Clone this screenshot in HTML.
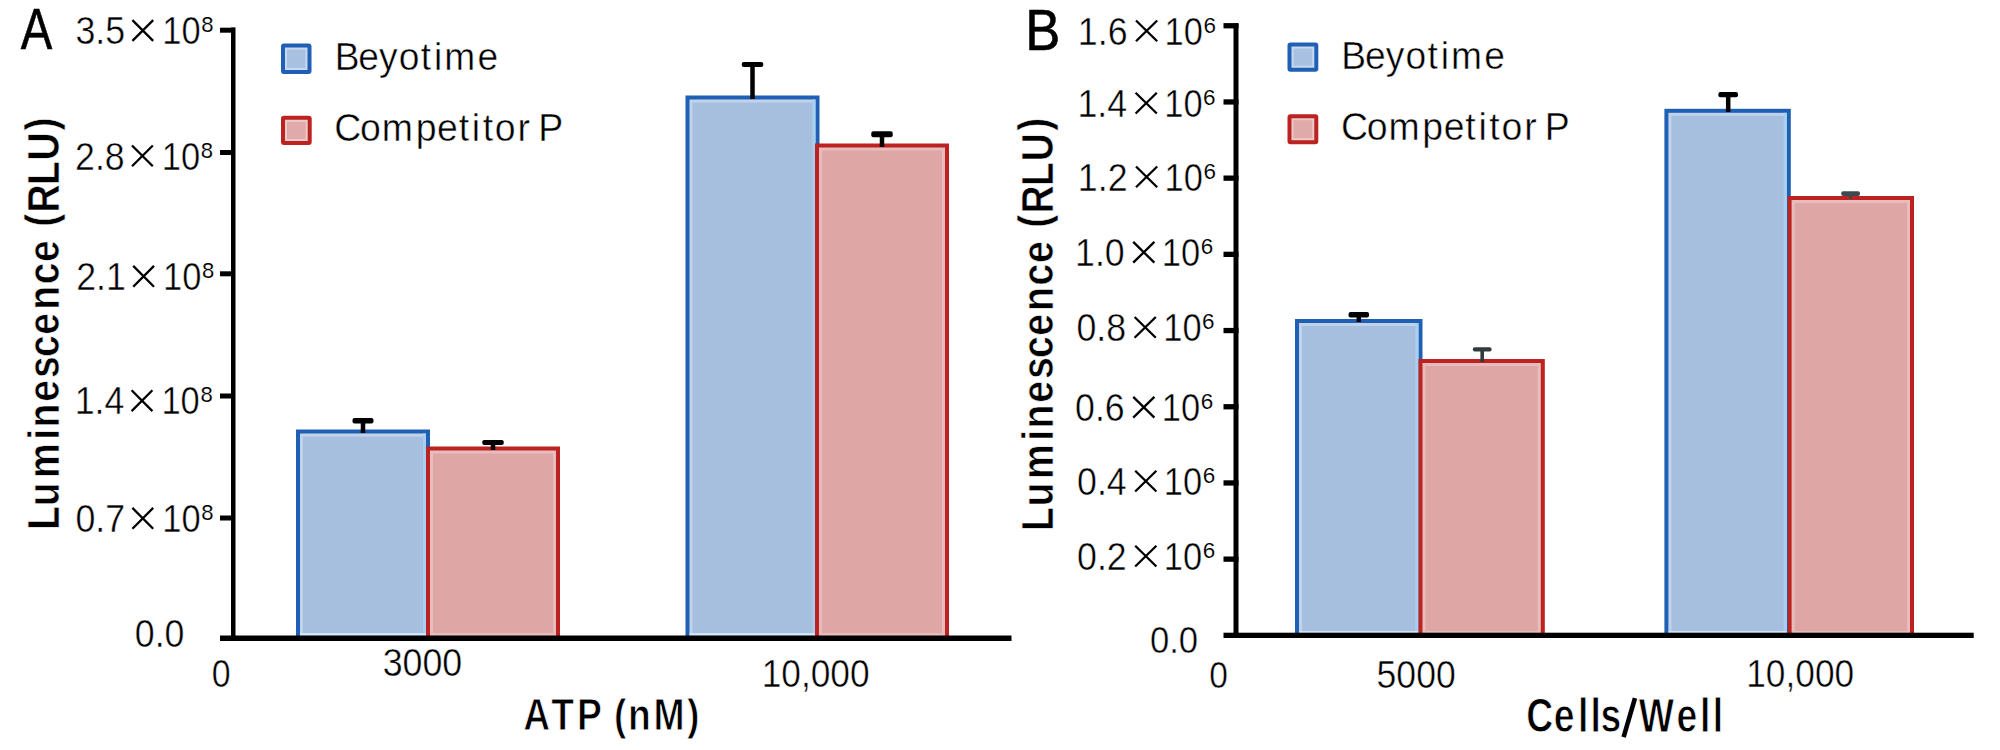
<!DOCTYPE html>
<html><head><meta charset="utf-8"><title>Luminescence comparison</title>
<style>
html,body{margin:0;padding:0;background:#fff;}
body{width:2000px;height:750px;overflow:hidden;position:relative;}
svg{position:absolute;left:0;top:0;display:block;}
text{font-family:"Liberation Sans", sans-serif;}
</style></head><body>
<svg width="2000" height="750" viewBox="0 0 2000 750">
<rect x="0" y="0" width="2000" height="750" fill="#fff"/>
<rect x="296.00" y="429.50" width="134.00" height="206.50" fill="#1f5fb4"/>
<rect x="300.00" y="433.50" width="126.00" height="202.50" fill="#c0d3ea"/>
<rect x="423.00" y="433.50" width="3.00" height="202.50" fill="#a6d0f2"/>
<rect x="300.00" y="633.00" width="126.00" height="3.00" fill="#cfe6f8"/>
<rect x="303.00" y="436.50" width="120.00" height="196.50" fill="#a7bfdf"/>
<rect x="426.00" y="446.50" width="134.00" height="189.50" fill="#bb2220"/>
<rect x="430.00" y="450.50" width="126.00" height="185.50" fill="#e8bcbc"/>
<rect x="433.00" y="453.50" width="120.00" height="179.50" fill="#dfa6a6"/>
<rect x="685.50" y="95.50" width="134.00" height="540.50" fill="#1f5fb4"/>
<rect x="689.50" y="99.50" width="126.00" height="536.50" fill="#c0d3ea"/>
<rect x="812.50" y="99.50" width="3.00" height="536.50" fill="#a6d0f2"/>
<rect x="689.50" y="633.00" width="126.00" height="3.00" fill="#cfe6f8"/>
<rect x="692.50" y="102.50" width="120.00" height="530.50" fill="#a7bfdf"/>
<rect x="815.00" y="143.50" width="134.00" height="492.50" fill="#bb2220"/>
<rect x="819.00" y="147.50" width="126.00" height="488.50" fill="#e8bcbc"/>
<rect x="822.00" y="150.50" width="120.00" height="482.50" fill="#dfa6a6"/>
<rect x="360.75" y="419.00" width="4.50" height="14.00" fill="#000"/>
<rect x="352.50" y="418.00" width="21.00" height="5.50" rx="2" fill="#000"/>
<rect x="490.75" y="441.00" width="4.50" height="9.00" fill="#000"/>
<rect x="482.25" y="440.00" width="21.50" height="5.00" rx="2" fill="#000"/>
<rect x="750.25" y="63.00" width="4.50" height="36.00" fill="#000"/>
<rect x="741.75" y="62.00" width="21.50" height="5.00" rx="2" fill="#000"/>
<rect x="879.75" y="132.30" width="4.50" height="14.70" fill="#000"/>
<rect x="871.30" y="131.30" width="21.40" height="6.00" rx="2" fill="#000"/>
<rect x="231.00" y="27.50" width="4.50" height="613.50" fill="#000"/>
<rect x="220.00" y="635.50" width="791.50" height="5.50" fill="#000"/>
<rect x="220.00" y="27.70" width="15.00" height="5.00" fill="#000"/>
<rect x="220.00" y="150.00" width="15.00" height="5.00" fill="#000"/>
<rect x="220.00" y="271.30" width="15.00" height="5.00" fill="#000"/>
<rect x="220.00" y="393.50" width="15.00" height="5.00" fill="#000"/>
<rect x="220.00" y="515.50" width="15.00" height="5.00" fill="#000"/>
<rect x="283.00" y="45.50" width="26.50" height="26.50" fill="#c8d8ee" stroke="#1f5fb4" stroke-width="4" rx="1"/>
<rect x="287.00" y="49.50" width="18.50" height="18.50" fill="#a9c1e0"/>
<rect x="283.00" y="117.80" width="26.70" height="25.20" fill="#eccaca" stroke="#bb2220" stroke-width="4" rx="1"/>
<rect x="287.00" y="121.80" width="18.70" height="17.20" fill="#e0aaaa"/>
<rect x="1295.00" y="319.00" width="127.50" height="315.00" fill="#1f5fb4"/>
<rect x="1299.00" y="323.00" width="119.50" height="311.00" fill="#c0d3ea"/>
<rect x="1415.50" y="323.00" width="3.00" height="311.00" fill="#a6d0f2"/>
<rect x="1299.00" y="631.00" width="119.50" height="3.00" fill="#cfe6f8"/>
<rect x="1302.00" y="326.00" width="113.50" height="305.00" fill="#a7bfdf"/>
<rect x="1418.50" y="359.00" width="126.30" height="275.00" fill="#bb2220"/>
<rect x="1422.50" y="363.00" width="118.30" height="271.00" fill="#e8bcbc"/>
<rect x="1425.50" y="366.00" width="112.30" height="265.00" fill="#dfa6a6"/>
<rect x="1664.40" y="108.80" width="126.40" height="525.20" fill="#1f5fb4"/>
<rect x="1668.40" y="112.80" width="118.40" height="521.20" fill="#c0d3ea"/>
<rect x="1783.80" y="112.80" width="3.00" height="521.20" fill="#a6d0f2"/>
<rect x="1668.40" y="631.00" width="118.40" height="3.00" fill="#cfe6f8"/>
<rect x="1671.40" y="115.80" width="112.40" height="515.20" fill="#a7bfdf"/>
<rect x="1787.60" y="196.00" width="126.40" height="438.00" fill="#bb2220"/>
<rect x="1791.60" y="200.00" width="118.40" height="434.00" fill="#e8bcbc"/>
<rect x="1794.60" y="203.00" width="112.40" height="428.00" fill="#dfa6a6"/>
<rect x="1356.55" y="313.00" width="4.50" height="9.00" fill="#000"/>
<rect x="1348.55" y="312.00" width="20.50" height="5.40" rx="2" fill="#000"/>
<rect x="1480.40" y="348.20" width="3.60" height="13.80" fill="#333a3c"/>
<rect x="1472.80" y="347.20" width="18.80" height="4.40" rx="2" fill="#333a3c"/>
<rect x="1725.95" y="93.00" width="4.50" height="19.00" fill="#000"/>
<rect x="1718.40" y="92.00" width="19.60" height="5.20" rx="2" fill="#000"/>
<rect x="1849.10" y="192.20" width="3.00" height="6.80" fill="#3c4a50"/>
<rect x="1841.20" y="191.20" width="18.80" height="4.80" rx="2" fill="#3c4a50"/>
<rect x="1233.50" y="23.50" width="5.00" height="614.50" fill="#000"/>
<rect x="1223.50" y="632.70" width="750.20" height="5.30" fill="#000"/>
<rect x="1223.50" y="23.10" width="15.00" height="5.30" fill="#000"/>
<rect x="1223.50" y="99.30" width="15.00" height="5.30" fill="#000"/>
<rect x="1223.50" y="175.50" width="15.00" height="5.30" fill="#000"/>
<rect x="1223.50" y="251.70" width="15.00" height="5.30" fill="#000"/>
<rect x="1223.50" y="327.90" width="15.00" height="5.30" fill="#000"/>
<rect x="1223.50" y="404.10" width="15.00" height="5.30" fill="#000"/>
<rect x="1223.50" y="480.30" width="15.00" height="5.30" fill="#000"/>
<rect x="1223.50" y="556.50" width="15.00" height="5.30" fill="#000"/>
<rect x="1289.50" y="44.50" width="26.80" height="25.20" fill="#c8d8ee" stroke="#1f5fb4" stroke-width="4" rx="1"/>
<rect x="1293.50" y="48.50" width="18.80" height="17.20" fill="#a9c1e0"/>
<rect x="1289.50" y="116.20" width="26.80" height="26.00" fill="#eccaca" stroke="#bb2220" stroke-width="4" rx="1"/>
<rect x="1293.50" y="120.20" width="18.80" height="18.00" fill="#e0aaaa"/>
<text transform="translate(20.63,48.70) scale(0.8231,1)" font-size="57.40" font-weight="normal" fill="#000" stroke="#000" stroke-width="0.6">A</text>
<text transform="translate(1025.21,49.70) scale(0.9046,1)" font-size="58.13" font-weight="normal" fill="#000" stroke="#000" stroke-width="0.6">B</text>
<text transform="translate(75.46,44.22) scale(0.9292,1)" font-size="38.45" stroke="#fff" stroke-width="0.45">3.5</text>
<path d="M132.41,20.10L153.19,40.90M153.19,20.10L132.41,40.90" stroke="#000" stroke-width="2.3" fill="none"/>
<text transform="translate(162.21,44.22) scale(0.8970,1)" font-size="38.45" stroke="#fff" stroke-width="0.45">10</text>
<text transform="translate(201.26,32.17) scale(0.9785,1)" font-size="22.61" font-weight="normal" fill="#000" stroke="#fff" stroke-width="0.12">8</text>
<text transform="translate(75.06,169.62) scale(0.9292,1)" font-size="38.45" stroke="#fff" stroke-width="0.45">2.8</text>
<path d="M132.01,145.51L152.80,166.30M152.80,145.51L132.01,166.30" stroke="#000" stroke-width="2.3" fill="none"/>
<text transform="translate(161.81,169.62) scale(0.8970,1)" font-size="38.45" stroke="#fff" stroke-width="0.45">10</text>
<text transform="translate(200.86,157.57) scale(0.9785,1)" font-size="22.61" font-weight="normal" fill="#000" stroke="#fff" stroke-width="0.12">8</text>
<text transform="translate(76.26,289.62) scale(0.9431,1)" font-size="37.88" stroke="#fff" stroke-width="0.45">2.1</text>
<path d="M133.21,265.90L154.00,286.69M154.00,265.90L133.21,286.69" stroke="#000" stroke-width="2.3" fill="none"/>
<text transform="translate(163.01,289.62) scale(0.9104,1)" font-size="37.88" stroke="#fff" stroke-width="0.45">10</text>
<text transform="translate(202.06,277.97) scale(0.9785,1)" font-size="22.61" font-weight="normal" fill="#000" stroke="#fff" stroke-width="0.12">8</text>
<text transform="translate(74.66,414.02) scale(0.9431,1)" font-size="37.88" stroke="#fff" stroke-width="0.45">1.4</text>
<path d="M131.61,390.31L152.39,411.10M152.39,390.31L131.61,411.10" stroke="#000" stroke-width="2.3" fill="none"/>
<text transform="translate(161.41,414.02) scale(0.9104,1)" font-size="37.88" stroke="#fff" stroke-width="0.45">10</text>
<text transform="translate(200.46,402.37) scale(0.9785,1)" font-size="22.61" font-weight="normal" fill="#000" stroke="#fff" stroke-width="0.12">8</text>
<text transform="translate(75.46,532.02) scale(0.9292,1)" font-size="38.45" stroke="#fff" stroke-width="0.45">0.7</text>
<path d="M132.41,507.90L153.19,528.70M153.19,507.90L132.41,528.70" stroke="#000" stroke-width="2.3" fill="none"/>
<text transform="translate(162.21,532.02) scale(0.8970,1)" font-size="38.45" stroke="#fff" stroke-width="0.45">10</text>
<text transform="translate(201.26,519.97) scale(0.9785,1)" font-size="22.61" font-weight="normal" fill="#000" stroke="#fff" stroke-width="0.12">8</text>
<text transform="translate(134.77,647.41) scale(0.9158,1)" font-size="39.01" font-weight="normal" fill="#000" stroke="#fff" stroke-width="0.45">0.0</text>
<text transform="translate(211.64,687.02) scale(0.8890,1)" font-size="38.16" font-weight="normal" fill="#000" stroke="#fff" stroke-width="0.45">0</text>
<text transform="translate(382.66,676.41) scale(0.9167,1)" font-size="39.01" font-weight="normal" fill="#000" stroke="#fff" stroke-width="0.45">3000</text>
<text transform="translate(761.65,686.52) scale(0.9323,1)" font-size="37.88" font-weight="normal" fill="#000" stroke="#fff" stroke-width="0.45">10,000</text>
<text transform="translate(334.63,69.70) scale(0.9721,1)" font-size="38.25" font-weight="normal" stroke="#fff" stroke-width="0.45">B</text>
<text transform="translate(358.33,69.70) scale(0.9721,1)" font-size="38.25" font-weight="normal" stroke="#fff" stroke-width="0.45">e</text>
<text transform="translate(378.95,69.70) scale(0.9721,1)" font-size="38.25" font-weight="normal" stroke="#fff" stroke-width="0.45">y</text>
<text transform="translate(398.68,69.70) scale(0.9721,1)" font-size="38.25" font-weight="normal" stroke="#fff" stroke-width="0.45">o</text>
<text transform="translate(420.70,69.70) scale(0.9721,1)" font-size="38.25" font-weight="normal" stroke="#fff" stroke-width="0.45">t</text>
<text transform="translate(434.01,69.70) scale(0.9721,1)" font-size="38.25" font-weight="normal" stroke="#fff" stroke-width="0.45">i</text>
<text transform="translate(444.27,69.70) scale(0.9721,1)" font-size="38.25" font-weight="normal" stroke="#fff" stroke-width="0.45">m</text>
<text transform="translate(477.53,69.70) scale(0.9721,1)" font-size="38.25" font-weight="normal" stroke="#fff" stroke-width="0.45">e</text>
<text transform="translate(334.29,141.00) scale(0.9751,1)" font-size="38.40" font-weight="normal" stroke="#fff" stroke-width="0.45">C</text>
<text transform="translate(360.06,141.00) scale(0.9751,1)" font-size="38.40" font-weight="normal" stroke="#fff" stroke-width="0.45">o</text>
<text transform="translate(381.87,141.00) scale(0.9751,1)" font-size="38.40" font-weight="normal" stroke="#fff" stroke-width="0.45">m</text>
<text transform="translate(415.64,141.00) scale(0.9751,1)" font-size="38.40" font-weight="normal" stroke="#fff" stroke-width="0.45">p</text>
<text transform="translate(437.11,141.00) scale(0.9751,1)" font-size="38.40" font-weight="normal" stroke="#fff" stroke-width="0.45">e</text>
<text transform="translate(458.66,141.00) scale(0.9751,1)" font-size="38.40" font-weight="normal" stroke="#fff" stroke-width="0.45">t</text>
<text transform="translate(471.68,141.00) scale(0.9751,1)" font-size="38.40" font-weight="normal" stroke="#fff" stroke-width="0.45">i</text>
<text transform="translate(482.66,141.00) scale(0.9751,1)" font-size="38.40" font-weight="normal" stroke="#fff" stroke-width="0.45">t</text>
<text transform="translate(494.86,141.00) scale(0.9751,1)" font-size="38.40" font-weight="normal" stroke="#fff" stroke-width="0.45">o</text>
<text transform="translate(517.44,141.00) scale(0.9751,1)" font-size="38.40" font-weight="normal" stroke="#fff" stroke-width="0.45">r</text>
<text transform="translate(538.14,141.00) scale(0.9751,1)" font-size="38.40" font-weight="normal" stroke="#fff" stroke-width="0.45">P</text>
<text transform="translate(523.33,730.00) scale(0.8404,1)" font-size="44.36" font-weight="bold" stroke="#fff" stroke-width="0.9">A</text>
<text transform="translate(551.13,730.00) scale(0.8404,1)" font-size="44.36" font-weight="bold" stroke="#fff" stroke-width="0.9">T</text>
<text transform="translate(576.95,730.00) scale(0.8404,1)" font-size="44.36" font-weight="bold" stroke="#fff" stroke-width="0.9">P</text>
<text transform="translate(613.92,730.00) scale(0.8404,1)" font-size="44.36" font-weight="bold" stroke="#fff" stroke-width="0.9">(</text>
<text transform="translate(628.04,730.00) scale(0.8404,1)" font-size="44.36" font-weight="bold" stroke="#fff" stroke-width="0.9">n</text>
<text transform="translate(653.48,730.00) scale(0.8404,1)" font-size="44.36" font-weight="bold" stroke="#fff" stroke-width="0.9">M</text>
<text transform="translate(686.94,730.00) scale(0.8404,1)" font-size="44.36" font-weight="bold" stroke="#fff" stroke-width="0.9">)</text>
<text transform="translate(59.00,529.73) rotate(-90) scale(0.8651,1)" font-size="45.09" font-weight="bold" stroke="#fff" stroke-width="0.6">L</text>
<text transform="translate(59.00,506.25) rotate(-90) scale(0.8651,1)" font-size="45.09" font-weight="bold" stroke="#fff" stroke-width="0.6">u</text>
<text transform="translate(59.00,477.96) rotate(-90) scale(0.8651,1)" font-size="45.09" font-weight="bold" stroke="#fff" stroke-width="0.6">m</text>
<text transform="translate(59.00,439.81) rotate(-90) scale(0.8651,1)" font-size="45.09" font-weight="bold" stroke="#fff" stroke-width="0.6">i</text>
<text transform="translate(59.00,427.50) rotate(-90) scale(0.8651,1)" font-size="45.09" font-weight="bold" stroke="#fff" stroke-width="0.6">n</text>
<text transform="translate(59.00,401.77) rotate(-90) scale(0.8651,1)" font-size="45.09" font-weight="bold" stroke="#fff" stroke-width="0.6">e</text>
<text transform="translate(59.00,378.08) rotate(-90) scale(0.8651,1)" font-size="45.09" font-weight="bold" stroke="#fff" stroke-width="0.6">s</text>
<text transform="translate(59.00,357.07) rotate(-90) scale(0.8651,1)" font-size="45.09" font-weight="bold" stroke="#fff" stroke-width="0.6">c</text>
<text transform="translate(59.00,334.67) rotate(-90) scale(0.8651,1)" font-size="45.09" font-weight="bold" stroke="#fff" stroke-width="0.6">e</text>
<text transform="translate(59.00,309.85) rotate(-90) scale(0.8651,1)" font-size="45.09" font-weight="bold" stroke="#fff" stroke-width="0.6">n</text>
<text transform="translate(59.00,284.37) rotate(-90) scale(0.8651,1)" font-size="45.09" font-weight="bold" stroke="#fff" stroke-width="0.6">c</text>
<text transform="translate(59.00,261.92) rotate(-90) scale(0.8651,1)" font-size="45.09" font-weight="bold" stroke="#fff" stroke-width="0.6">e</text>
<text transform="translate(55.50,226.76) rotate(-90) scale(0.8651,1)" font-size="45.09" font-weight="bold" stroke="#fff" stroke-width="0.6">(</text>
<text transform="translate(59.00,212.42) rotate(-90) scale(0.8651,1)" font-size="45.09" font-weight="bold" stroke="#fff" stroke-width="0.6">R</text>
<text transform="translate(59.00,185.03) rotate(-90) scale(0.8651,1)" font-size="45.09" font-weight="bold" stroke="#fff" stroke-width="0.6">L</text>
<text transform="translate(59.00,160.59) rotate(-90) scale(0.8651,1)" font-size="45.09" font-weight="bold" stroke="#fff" stroke-width="0.6">U</text>
<text transform="translate(55.50,130.46) rotate(-90) scale(0.8651,1)" font-size="45.09" font-weight="bold" stroke="#fff" stroke-width="0.6">)</text>
<text transform="translate(1077.86,45.01) scale(0.9158,1)" font-size="39.01" stroke="#fff" stroke-width="0.45">1.6</text>
<path d="M1136.00,20.50L1157.19,41.30M1157.19,20.50L1136.00,41.30" stroke="#000" stroke-width="2.3" fill="none"/>
<text transform="translate(1164.61,45.01) scale(0.8840,1)" font-size="39.01" stroke="#fff" stroke-width="0.45">10</text>
<text transform="translate(1203.48,32.57) scale(0.9943,1)" font-size="22.61" font-weight="normal" fill="#000" stroke="#fff" stroke-width="0.12">6</text>
<text transform="translate(1077.46,116.82) scale(0.9292,1)" font-size="38.45" stroke="#fff" stroke-width="0.45">1.4</text>
<path d="M1135.61,92.71L1156.80,113.49M1156.80,92.71L1135.61,113.49" stroke="#000" stroke-width="2.3" fill="none"/>
<text transform="translate(1164.21,116.82) scale(0.8970,1)" font-size="38.45" stroke="#fff" stroke-width="0.45">10</text>
<text transform="translate(1203.08,104.77) scale(0.9943,1)" font-size="22.61" font-weight="normal" fill="#000" stroke="#fff" stroke-width="0.12">6</text>
<text transform="translate(1077.86,191.01) scale(0.9158,1)" font-size="39.01" stroke="#fff" stroke-width="0.45">1.2</text>
<path d="M1136.00,166.51L1157.19,187.30M1157.19,166.51L1136.00,187.30" stroke="#000" stroke-width="2.3" fill="none"/>
<text transform="translate(1164.61,191.01) scale(0.8840,1)" font-size="39.01" stroke="#fff" stroke-width="0.45">10</text>
<text transform="translate(1203.48,178.57) scale(0.9943,1)" font-size="22.61" font-weight="normal" fill="#000" stroke="#fff" stroke-width="0.12">6</text>
<text transform="translate(1075.06,266.41) scale(0.9158,1)" font-size="39.01" stroke="#fff" stroke-width="0.45">1.0</text>
<path d="M1133.20,241.91L1154.39,262.69M1154.39,241.91L1133.20,262.69" stroke="#000" stroke-width="2.3" fill="none"/>
<text transform="translate(1161.81,266.41) scale(0.8840,1)" font-size="39.01" stroke="#fff" stroke-width="0.45">10</text>
<text transform="translate(1200.68,253.97) scale(0.9943,1)" font-size="22.61" font-weight="normal" fill="#000" stroke="#fff" stroke-width="0.12">6</text>
<text transform="translate(1076.46,341.41) scale(0.9191,1)" font-size="38.87" stroke="#fff" stroke-width="0.45">0.8</text>
<path d="M1134.61,317.00L1155.80,337.80M1155.80,317.00L1134.61,337.80" stroke="#000" stroke-width="2.3" fill="none"/>
<text transform="translate(1163.21,341.41) scale(0.8872,1)" font-size="38.87" stroke="#fff" stroke-width="0.45">10</text>
<text transform="translate(1202.08,329.07) scale(0.9943,1)" font-size="22.61" font-weight="normal" fill="#000" stroke="#fff" stroke-width="0.12">6</text>
<text transform="translate(1075.06,421.41) scale(0.9158,1)" font-size="39.01" stroke="#fff" stroke-width="0.45">0.6</text>
<path d="M1133.20,396.90L1154.39,417.69M1154.39,396.90L1133.20,417.69" stroke="#000" stroke-width="2.3" fill="none"/>
<text transform="translate(1161.81,421.41) scale(0.8840,1)" font-size="39.01" stroke="#fff" stroke-width="0.45">10</text>
<text transform="translate(1200.68,408.97) scale(0.9943,1)" font-size="22.61" font-weight="normal" fill="#000" stroke="#fff" stroke-width="0.12">6</text>
<text transform="translate(1077.06,495.21) scale(0.9158,1)" font-size="39.01" stroke="#fff" stroke-width="0.45">0.4</text>
<path d="M1135.20,470.70L1156.39,491.50M1156.39,470.70L1135.20,491.50" stroke="#000" stroke-width="2.3" fill="none"/>
<text transform="translate(1163.81,495.21) scale(0.8840,1)" font-size="39.01" stroke="#fff" stroke-width="0.45">10</text>
<text transform="translate(1202.68,482.77) scale(0.9943,1)" font-size="22.61" font-weight="normal" fill="#000" stroke="#fff" stroke-width="0.12">6</text>
<text transform="translate(1077.06,570.21) scale(0.9158,1)" font-size="39.01" stroke="#fff" stroke-width="0.45">0.2</text>
<path d="M1135.20,545.70L1156.39,566.50M1156.39,545.70L1135.20,566.50" stroke="#000" stroke-width="2.3" fill="none"/>
<text transform="translate(1163.81,570.21) scale(0.8840,1)" font-size="39.01" stroke="#fff" stroke-width="0.45">10</text>
<text transform="translate(1202.68,557.77) scale(0.9943,1)" font-size="22.61" font-weight="normal" fill="#000" stroke="#fff" stroke-width="0.12">6</text>
<text transform="translate(1149.91,652.92) scale(0.9218,1)" font-size="37.60" font-weight="normal" fill="#000" stroke="#fff" stroke-width="0.45">0.0</text>
<text transform="translate(1209.36,687.62) scale(0.8879,1)" font-size="37.74" font-weight="normal" fill="#000" stroke="#fff" stroke-width="0.45">0</text>
<text transform="translate(1376.58,688.31) scale(0.9085,1)" font-size="39.15" font-weight="normal" fill="#000" stroke="#fff" stroke-width="0.45">5000</text>
<text transform="translate(1746.25,686.92) scale(0.9314,1)" font-size="37.88" font-weight="normal" fill="#000" stroke="#fff" stroke-width="0.45">10,000</text>
<text transform="translate(1341.33,68.90) scale(0.9721,1)" font-size="38.25" font-weight="normal" stroke="#fff" stroke-width="0.45">B</text>
<text transform="translate(1365.03,68.90) scale(0.9721,1)" font-size="38.25" font-weight="normal" stroke="#fff" stroke-width="0.45">e</text>
<text transform="translate(1385.65,68.90) scale(0.9721,1)" font-size="38.25" font-weight="normal" stroke="#fff" stroke-width="0.45">y</text>
<text transform="translate(1405.38,68.90) scale(0.9721,1)" font-size="38.25" font-weight="normal" stroke="#fff" stroke-width="0.45">o</text>
<text transform="translate(1427.40,68.90) scale(0.9721,1)" font-size="38.25" font-weight="normal" stroke="#fff" stroke-width="0.45">t</text>
<text transform="translate(1440.71,68.90) scale(0.9721,1)" font-size="38.25" font-weight="normal" stroke="#fff" stroke-width="0.45">i</text>
<text transform="translate(1450.97,68.90) scale(0.9721,1)" font-size="38.25" font-weight="normal" stroke="#fff" stroke-width="0.45">m</text>
<text transform="translate(1484.23,68.90) scale(0.9721,1)" font-size="38.25" font-weight="normal" stroke="#fff" stroke-width="0.45">e</text>
<text transform="translate(1340.99,140.20) scale(0.9751,1)" font-size="38.40" font-weight="normal" stroke="#fff" stroke-width="0.45">C</text>
<text transform="translate(1366.76,140.20) scale(0.9751,1)" font-size="38.40" font-weight="normal" stroke="#fff" stroke-width="0.45">o</text>
<text transform="translate(1388.57,140.20) scale(0.9751,1)" font-size="38.40" font-weight="normal" stroke="#fff" stroke-width="0.45">m</text>
<text transform="translate(1422.34,140.20) scale(0.9751,1)" font-size="38.40" font-weight="normal" stroke="#fff" stroke-width="0.45">p</text>
<text transform="translate(1443.81,140.20) scale(0.9751,1)" font-size="38.40" font-weight="normal" stroke="#fff" stroke-width="0.45">e</text>
<text transform="translate(1465.36,140.20) scale(0.9751,1)" font-size="38.40" font-weight="normal" stroke="#fff" stroke-width="0.45">t</text>
<text transform="translate(1478.38,140.20) scale(0.9751,1)" font-size="38.40" font-weight="normal" stroke="#fff" stroke-width="0.45">i</text>
<text transform="translate(1489.36,140.20) scale(0.9751,1)" font-size="38.40" font-weight="normal" stroke="#fff" stroke-width="0.45">t</text>
<text transform="translate(1501.56,140.20) scale(0.9751,1)" font-size="38.40" font-weight="normal" stroke="#fff" stroke-width="0.45">o</text>
<text transform="translate(1524.14,140.20) scale(0.9751,1)" font-size="38.40" font-weight="normal" stroke="#fff" stroke-width="0.45">r</text>
<text transform="translate(1544.84,140.20) scale(0.9751,1)" font-size="38.40" font-weight="normal" stroke="#fff" stroke-width="0.45">P</text>
<text transform="translate(1526.19,731.80) scale(0.7866,1)" font-size="47.42" font-weight="bold" stroke="#fff" stroke-width="0.9">C</text>
<text transform="translate(1553.86,731.80) scale(0.7866,1)" font-size="47.42" font-weight="bold" stroke="#fff" stroke-width="0.9">e</text>
<text transform="translate(1578.12,731.80) scale(0.7866,1)" font-size="47.42" font-weight="bold" stroke="#fff" stroke-width="0.9">l</text>
<text transform="translate(1590.47,731.80) scale(0.7866,1)" font-size="47.42" font-weight="bold" stroke="#fff" stroke-width="0.9">l</text>
<text transform="translate(1600.39,731.80) scale(0.7866,1)" font-size="47.42" font-weight="bold" stroke="#fff" stroke-width="0.9">s</text>
<text transform="translate(1638.73,731.80) scale(0.7866,1)" font-size="47.42" font-weight="bold" stroke="#fff" stroke-width="0.9">W</text>
<text transform="translate(1676.61,731.80) scale(0.7866,1)" font-size="47.42" font-weight="bold" stroke="#fff" stroke-width="0.9">e</text>
<text transform="translate(1700.02,731.80) scale(0.7866,1)" font-size="47.42" font-weight="bold" stroke="#fff" stroke-width="0.9">l</text>
<text transform="translate(1712.67,731.80) scale(0.7866,1)" font-size="47.42" font-weight="bold" stroke="#fff" stroke-width="0.9">l</text>
<path d="M1623.6,737.2L1635,698.2" stroke="#000" stroke-width="4.6" fill="none"/>
<text transform="translate(1052.50,531.37) rotate(-90) scale(0.8738,1)" font-size="44.80" font-weight="bold" stroke="#fff" stroke-width="0.6">L</text>
<text transform="translate(1052.50,506.59) rotate(-90) scale(0.8738,1)" font-size="44.80" font-weight="bold" stroke="#fff" stroke-width="0.6">u</text>
<text transform="translate(1052.50,479.02) rotate(-90) scale(0.8738,1)" font-size="44.80" font-weight="bold" stroke="#fff" stroke-width="0.6">m</text>
<text transform="translate(1052.50,440.83) rotate(-90) scale(0.8738,1)" font-size="44.80" font-weight="bold" stroke="#fff" stroke-width="0.6">i</text>
<text transform="translate(1052.50,428.54) rotate(-90) scale(0.8738,1)" font-size="44.80" font-weight="bold" stroke="#fff" stroke-width="0.6">n</text>
<text transform="translate(1052.50,402.81) rotate(-90) scale(0.8738,1)" font-size="44.80" font-weight="bold" stroke="#fff" stroke-width="0.6">e</text>
<text transform="translate(1052.50,379.11) rotate(-90) scale(0.8738,1)" font-size="44.80" font-weight="bold" stroke="#fff" stroke-width="0.6">s</text>
<text transform="translate(1052.50,358.11) rotate(-90) scale(0.8738,1)" font-size="44.80" font-weight="bold" stroke="#fff" stroke-width="0.6">c</text>
<text transform="translate(1052.50,335.71) rotate(-90) scale(0.8738,1)" font-size="44.80" font-weight="bold" stroke="#fff" stroke-width="0.6">e</text>
<text transform="translate(1052.50,310.89) rotate(-90) scale(0.8738,1)" font-size="44.80" font-weight="bold" stroke="#fff" stroke-width="0.6">n</text>
<text transform="translate(1052.50,285.41) rotate(-90) scale(0.8738,1)" font-size="44.80" font-weight="bold" stroke="#fff" stroke-width="0.6">c</text>
<text transform="translate(1052.50,262.96) rotate(-90) scale(0.8738,1)" font-size="44.80" font-weight="bold" stroke="#fff" stroke-width="0.6">e</text>
<text transform="translate(1049.00,227.79) rotate(-90) scale(0.8738,1)" font-size="44.80" font-weight="bold" stroke="#fff" stroke-width="0.6">(</text>
<text transform="translate(1052.50,213.47) rotate(-90) scale(0.8738,1)" font-size="44.80" font-weight="bold" stroke="#fff" stroke-width="0.6">R</text>
<text transform="translate(1052.50,186.17) rotate(-90) scale(0.8738,1)" font-size="44.80" font-weight="bold" stroke="#fff" stroke-width="0.6">L</text>
<text transform="translate(1052.50,161.19) rotate(-90) scale(0.8738,1)" font-size="44.80" font-weight="bold" stroke="#fff" stroke-width="0.6">U</text>
<text transform="translate(1049.00,130.78) rotate(-90) scale(0.8738,1)" font-size="44.80" font-weight="bold" stroke="#fff" stroke-width="0.6">)</text>
</svg>
</body></html>
